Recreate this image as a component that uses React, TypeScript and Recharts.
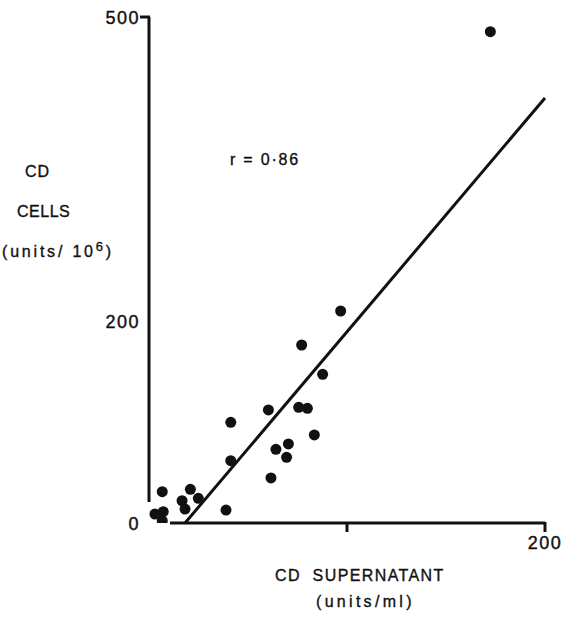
import React from "react";
import { ScatterChart, Scatter, XAxis, YAxis, ReferenceLine } from "recharts";

// CD supernatant (units/ml) vs CD cells (units/10^6)
const cdSupernatant = [6.7, 20.9, 16.7, 18.2, 24.9, 7.2, 3.0, 6.7, 38.9, 41.3, 41.3, 60.3, 75.6, 80.0, 83.5, 64.1, 70.4, 69.5, 61.6, 96.8, 77.1, 87.7, 172.4];
const cdCells = [30.9, 33.3, 22.0, 13.8, 24.4, 11.2, 8.9, 2.3, 12.8, 99.5, 61.6, 111.7, 114.3, 113.3, 87.0, 72.8, 78.1, 64.9, 44.5, 209.5, 175.9, 146.9, 485.5];

// regression line end points
const regressionX = [18.2, 200];
const regressionY = [0, 420];

// drawn axis line extents (data units)
const xAxisSpan = [10.6, 200];
const yAxisSpan = [20.7, 500];

const xTicks = [100, 200];
const xTickLabels = ["", "200"];
const yTicks = [0, 200, 500];
const yTickLabels = ["0", "200", "500"];

const INK = "#111";
const FONT = "'Liberation Sans', Arial, sans-serif";

const points = cdSupernatant.map((x, i) => ({ x, y: cdCells[i] }));

const Dot = (props: any) => <circle cx={props.cx} cy={props.cy} r={5.5} fill={INK} />;

const XTick = (props: any) => {
  const { x, y, payload } = props;
  const idx = xTicks.indexOf(payload.value);
  return (
    <g>
      <line x1={x} y1={y - 1} x2={x} y2={y + 9} stroke={INK} strokeWidth={3} />
      <text x={x} y={y + 20} textAnchor="middle" dominantBaseline="central" fontFamily={FONT} fontSize={18} letterSpacing={1.5} fill={INK} stroke={INK} strokeWidth={0.4}>
        {xTickLabels[idx]}
      </text>
    </g>
  );
};

const YTick = (props: any) => {
  const { x, y, payload } = props;
  const idx = yTicks.indexOf(payload.value);
  const isTop = payload.value === yTicks[yTicks.length - 1];
  return (
    <g>
      {isTop && <line x1={x - 9} y1={y} x2={x + 1} y2={y} stroke={INK} strokeWidth={3} />}
      <text x={x - 9} y={y + 1} textAnchor="end" dominantBaseline="central" fontFamily={FONT} fontSize={18} letterSpacing={1.5} fill={INK} stroke={INK} strokeWidth={0.4}>
        {yTickLabels[idx]}
      </text>
    </g>
  );
};

const textStyle: React.CSSProperties = {
  position: "absolute",
  fontFamily: FONT,
  color: INK,
  whiteSpace: "pre",
  lineHeight: "16px",
  WebkitTextStroke: `0.35px ${INK}`,
};

export default function App() {
  return (
    <div style={{ position: "absolute", left: 0, top: 0, width: 575, height: 619, background: "#fff" }}>
      <ScatterChart width={575} height={619} margin={{ top: 17, right: 30, bottom: 0, left: 0 }}>
        <XAxis
          type="number"
          dataKey="x"
          domain={[0, 200]}
          ticks={xTicks}
          axisLine={false}
          tickLine={false}
          tickSize={0}
          tickMargin={0}
          height={96}
          tick={<XTick />}
          allowDataOverflow
        />
        <YAxis
          type="number"
          dataKey="y"
          domain={[0, 500]}
          ticks={yTicks}
          axisLine={false}
          tickLine={false}
          tickSize={0}
          tickMargin={0}
          width={149}
          tick={<YTick />}
          allowDataOverflow
        />
        <ReferenceLine
          segment={[{ x: xAxisSpan[0], y: 0 }, { x: xAxisSpan[1], y: 0 }]}
          stroke={INK}
          strokeWidth={3}
          ifOverflow="visible"
        />
        <ReferenceLine
          segment={[{ x: 0, y: yAxisSpan[0] }, { x: 0, y: yAxisSpan[1] }]}
          stroke={INK}
          strokeWidth={3}
          ifOverflow="visible"
        />
        <ReferenceLine
          segment={[{ x: regressionX[0], y: regressionY[0] }, { x: regressionX[1], y: regressionY[1] }]}
          stroke={INK}
          strokeWidth={3}
          ifOverflow="visible"
        />
        <Scatter data={points} shape={<Dot />} isAnimationActive={false} />
      </ScatterChart>

      <div style={{ ...textStyle, left: 25, top: 164, fontSize: 16, letterSpacing: 1 }}>CD</div>
      <div style={{ ...textStyle, left: 17, top: 204, fontSize: 16, letterSpacing: 0.5 }}>CELLS</div>
      <div style={{ ...textStyle, left: 2, top: 244, fontSize: 16, letterSpacing: 2.8 }}>
        (units/ 10<sup style={{ fontSize: 13, verticalAlign: "6px", lineHeight: 0 }}>6</sup>)
      </div>
      <div style={{ ...textStyle, left: 230, top: 152, fontSize: 16, letterSpacing: 1.8 }}>r = 0·86</div>
      <div style={{ ...textStyle, left: 275, top: 568, fontSize: 16, letterSpacing: 1.4 }}>CD  SUPERNATANT</div>
      <div style={{ ...textStyle, left: 316, top: 594, fontSize: 16, letterSpacing: 3.3 }}>(units/ml)</div>
    </div>
  );
}
